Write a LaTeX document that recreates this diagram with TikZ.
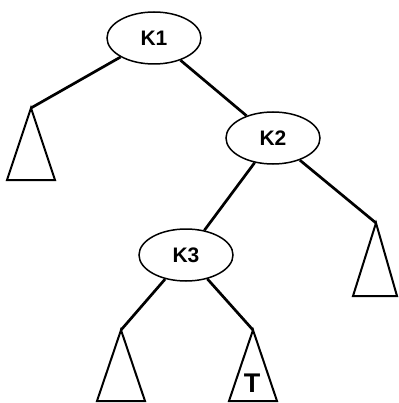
\documentclass[tikz,border=0pt]{standalone}
\usepackage{fontspec}
\setmainfont{Liberation Sans}
\usetikzlibrary{shapes.geometric}
\begin{document}
\begin{tikzpicture}[x=1pt,y=-1pt,
  key/.style={ellipse,draw,line width=1.5pt,minimum width=94pt,minimum height=52pt,inner sep=0pt,font=\fontsize{21}{24}\selectfont\bfseries},
  edge/.style={line width=2.7pt},
  subtree/.style={line width=2pt,line join=miter}]
\useasboundingbox (0,0) rectangle (398,403);
% keys
\node[key] (k1) at (154,38) {K1};
\node[key] (k2) at (273,138) {K2};
\node[key] (k3) at (186,255) {K3};
% subtree apexes
\coordinate (a1) at (31,108);
\coordinate (a2) at (376,223);
\coordinate (a3) at (121,330);
\coordinate (a4) at (253,330);
% connectors
\draw[edge] (k1) -- (a1);
\draw[edge] (k1) -- (k2);
\draw[edge] (k2) -- (k3);
\draw[edge] (k2) -- (a2);
\draw[edge] (k3) -- (a3);
\draw[edge] (k3) -- (a4);
% subtrees
\draw[subtree] (a1) -- (7,180) -- (55,180) -- cycle;
\draw[subtree] (a2) -- (353,296) -- (397,296) -- cycle;
\draw[subtree] (a3) -- (97,401) -- (145,401) -- cycle;
\draw[subtree] (a4) -- (229,401) -- (277,401) -- cycle;
\node[font=\fontsize{27}{30}\selectfont\bfseries] (t) at (252,383) {T};
\end{tikzpicture}
\end{document}
